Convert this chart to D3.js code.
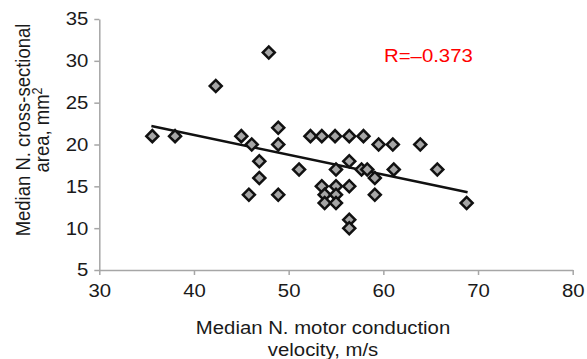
<!DOCTYPE html>
<html>
<head>
<meta charset="utf-8">
<script src="https://cdn.jsdelivr.net/npm/d3@7"></script>
<style>
  body { margin: 0; background: #fff; }
  text { font-family: "Liberation Sans", Arial, Helvetica, sans-serif; }
</style>
</head>
<body>
<div id="chart"></div>
<script>
// velocity (m/s) and cross-sectional area (mm2)
const velocity = [35.6, 38.0, 42.3, 47.9, 45.0, 46.1, 48.9, 48.9, 46.9, 46.9,
                  45.8, 48.9, 51.1, 52.3, 53.5, 54.9, 56.4, 57.9, 59.5, 61.0,
                  56.4, 55.0, 57.7, 58.3, 59.1, 61.1, 59.1, 53.5, 55.0, 56.4,
                  53.8, 55.0, 53.8, 55.0, 56.4, 56.4, 63.9, 65.7, 68.8];
const area = [21, 21, 27, 31, 21, 20, 22, 20, 18, 16,
              14, 14, 17, 21, 21, 21, 21, 21, 20, 20,
              18, 17, 17, 17, 16, 17, 14, 15, 15, 15,
              14, 14, 13, 13, 11, 10, 20, 17, 13];

// fitted line end points
const trendX = [35.5, 68.9];
const trendY = [22.2, 14.3];

const xTicks = [30, 40, 50, 60, 70, 80];
const yTicks = [5, 10, 15, 20, 25, 30, 35];
const rLabel = "R=\u20130.373";

let width = 587, height = 359;
let fontSize = 18.5;
let stretch = 1.1; // the source image is a bit wider than tall

let svg = d3.select("#chart").append("svg")
    .attr("width", width)
    .attr("height", height);

let xScale = d3.scaleLinear().domain([30, 80]).range([99.3, 572.7]);
let yScale = d3.scaleLinear().domain([5, 35]).range([270, 19]);

let xAxis = d3.axisBottom(xScale)
    .tickValues(xTicks)
    .tickSize(5)
    .tickSizeOuter(0)
    .tickPadding(9);

let yAxis = d3.axisLeft(yScale)
    .tickValues(yTicks)
    .tickSize(5)
    .tickSizeOuter(0)
    .tickPadding(6);

let xAx = svg.append("g")
    .attr("transform", "translate(0," + yScale(5) + ")")
    .call(xAxis);

let yAx = svg.append("g")
    .attr("transform", "translate(" + xScale(30) + ",0)")
    .call(yAxis);

[xAx, yAx].forEach(ax => {
    ax.selectAll("path, line").attr("stroke", "#a6a6a6").attr("stroke-width", 1.5);
    ax.selectAll("text")
        .attr("fill", "#1a1a1a")
        .attr("transform", "scale(" + stretch + ",1)")
        .style("font-size", fontSize + "px")
        .style("font-family", "'Liberation Sans', Arial, sans-serif");
});
yAx.selectAll("text").attr("x", -10);

//trend line
svg.append("line")
    .attr("x1", xScale(trendX[0]))
    .attr("y1", yScale(trendY[0]))
    .attr("x2", xScale(trendX[1]))
    .attr("y2", yScale(trendY[1]))
    .attr("stroke", "#111")
    .attr("stroke-width", 2.5);

//points
let diamond = d3.symbol().type(d3.symbolSquare).size(72);
let points = velocity.map((v, i) => ({x: v, y: area[i]}));

svg.append("g").selectAll("path")
    .data(points)
    .enter().append("path")
    .attr("d", diamond)
    .attr("transform", d => "translate(" + xScale(d.x) + "," + yScale(d.y) + ") rotate(45)")
    .attr("fill", "#a6a6a6")
    .attr("stroke", "#111")
    .attr("stroke-width", 2.5);

//R value
svg.append("text")
    .attr("transform", "translate(384,61.5) scale(" + stretch + ",1)")
    .attr("fill", "#ff0000")
    .style("font-size", fontSize + "px")
    .text(rLabel);

//axis titles
let xTitle = svg.append("text")
    .attr("text-anchor", "middle")
    .attr("fill", "#1a1a1a")
    .attr("transform", "translate(323,0) scale(" + stretch + ",1)")
    .style("font-size", fontSize + "px");
xTitle.append("tspan").attr("x", 0).attr("y", 334).text("Median N. motor conduction");
xTitle.append("tspan").attr("x", 0).attr("y", 356).text("velocity, m/s");

let yTitle = svg.append("text")
    .attr("text-anchor", "middle")
    .attr("fill", "#1a1a1a")
    .attr("transform", "translate(0,130) rotate(-90) scale(1," + stretch + ")")
    .style("font-size", fontSize + "px");
yTitle.append("tspan").attr("x", 0).attr("y", 27).text("Median N. cross-sectional");
let line2 = yTitle.append("tspan").attr("x", 0).attr("y", 45).text("area, mm");
line2.append("tspan").attr("dy", -7).style("font-size", "12.5px").text("2");
</script>
</body>
</html>
